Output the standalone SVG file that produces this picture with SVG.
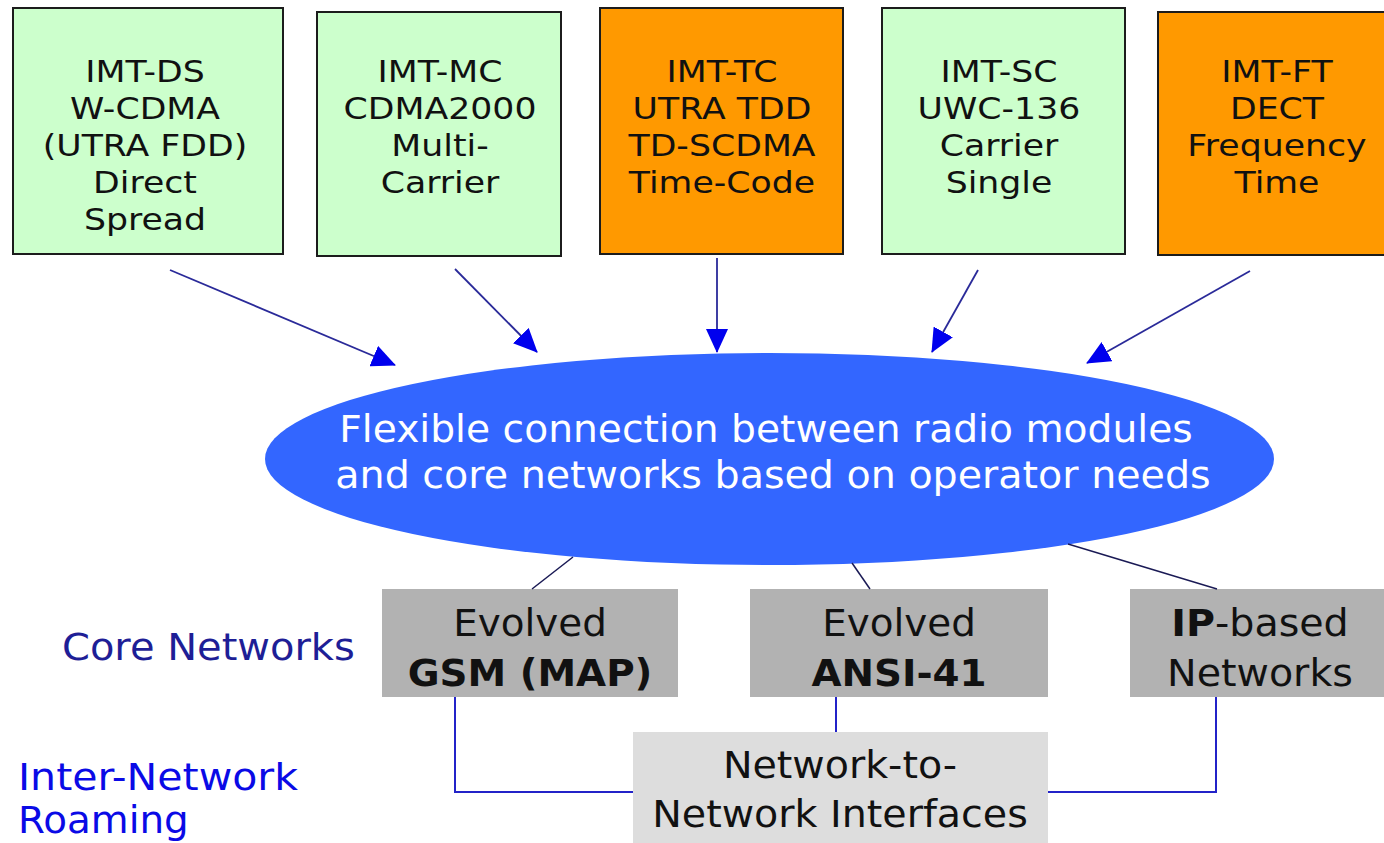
<svg xmlns="http://www.w3.org/2000/svg" width="1384" height="843" viewBox="0 0 1384 843">
<style>
text{font-family:"DejaVu Sans","Verdana",sans-serif}
.top{font-size:31px;fill:#111;text-anchor:middle}
.green{fill:#CCFFCC;stroke:#1c1c1c;stroke-width:2}
.orange{fill:#FF9900;stroke:#1c1c1c;stroke-width:2}
.core{fill:#B2B2B2}
.nni{fill:#DDDDDD}
.mid{font-size:37px;fill:#111;text-anchor:middle}
.b{font-weight:bold}
.arrow{stroke:#2a2a99;stroke-width:1.8;fill:none;marker-end:url(#ah)}
.link{stroke:#1a1a55;stroke-width:1.5;fill:none}
.net{stroke:#2323c8;stroke-width:2;fill:none}
</style>
<defs>
<marker id="ah" markerUnits="userSpaceOnUse" markerWidth="24" markerHeight="22" viewBox="0 0 24 22" refX="23" refY="11" orient="auto">
<path d="M0,0 L24,11 L0,22 z" fill="#0000EE"/>
</marker>
</defs>
<rect width="1384" height="843" fill="#FFFFFF"/>

<g id="imt-ds">
<rect class="green" x="13" y="8" width="270" height="246"/>
<g transform="translate(145,0) scale(1.12,1)">
<text class="top" x="0" y="82">IMT-DS</text>
<text class="top" x="0" y="119">W-CDMA</text>
<text class="top" x="0" y="156">(UTRA FDD)</text>
<text class="top" x="0" y="193">Direct</text>
<text class="top" x="0" y="230">Spread</text>
</g>
</g>

<g id="imt-mc">
<rect class="green" x="317" y="12" width="244" height="244"/>
<g transform="translate(440,0) scale(1.12,1)">
<text class="top" x="0" y="82">IMT-MC</text>
<text class="top" x="0" y="119">CDMA2000</text>
<text class="top" x="0" y="156">Multi-</text>
<text class="top" x="0" y="193">Carrier</text>
</g>
</g>

<g id="imt-tc">
<rect class="orange" x="600" y="8" width="243" height="246"/>
<g transform="translate(722,0) scale(1.12,1)">
<text class="top" x="0" y="82">IMT-TC</text>
<text class="top" x="0" y="119">UTRA TDD</text>
<text class="top" x="0" y="156">TD-SCDMA</text>
<text class="top" x="0" y="193">Time-Code</text>
</g>
</g>

<g id="imt-sc">
<rect class="green" x="882" y="8" width="243" height="246"/>
<g transform="translate(999,0) scale(1.12,1)">
<text class="top" x="0" y="82">IMT-SC</text>
<text class="top" x="0" y="119">UWC-136</text>
<text class="top" x="0" y="156">Carrier</text>
<text class="top" x="0" y="193">Single</text>
</g>
</g>

<g id="imt-ft">
<rect class="orange" x="1158" y="12" width="240" height="243"/>
<g transform="translate(1277,0) scale(1.12,1)">
<text class="top" x="0" y="82">IMT-FT</text>
<text class="top" x="0" y="119">DECT</text>
<text class="top" x="0" y="156">Frequency</text>
<text class="top" x="0" y="193">Time</text>
</g>
</g>

<g id="flex">
<ellipse cx="769.5" cy="459" rx="504.5" ry="106" fill="#3366FF"/>
<text transform="translate(766,0) scale(1.06,1)" x="0" y="442" font-size="37" fill="#FFFFFF" text-anchor="middle">Flexible connection between radio modules</text>
<text transform="translate(773,0) scale(1.07,1)" x="0" y="488" font-size="37" fill="#FFFFFF" text-anchor="middle">and core networks based on operator needs</text>
</g>

<g id="label-core">
<text transform="translate(62,660) scale(1.08,1)" x="0" y="0" font-size="37" fill="#1e1e96">Core Networks</text>
</g>
<g id="label-roaming">
<text transform="translate(18,0) scale(1.11,1)" x="0" y="790" font-size="37" fill="#0a0ae6">Inter-Network</text>
<text transform="translate(18,0) scale(1.05,1)" x="0" y="833" font-size="37" fill="#0a0ae6">Roaming</text>
</g>

<g id="gsm">
<rect class="core" x="382" y="589" width="296" height="108"/>
<g transform="translate(530,0) scale(1.05,1)">
<text class="mid" x="0" y="636">Evolved</text>
<text class="mid b" x="0" y="686">GSM (MAP)</text>
</g>
</g>

<g id="ansi">
<rect class="core" x="750" y="589" width="298" height="108"/>
<g transform="translate(899,0) scale(1.05,1)">
<text class="mid" x="0" y="636">Evolved</text>
<text class="mid b" x="0" y="686">ANSI-41</text>
</g>
</g>

<g id="ip">
<rect class="core" x="1130" y="589" width="260" height="108"/>
<g transform="translate(1260,0) scale(1.07,1)">
<text class="mid" x="0" y="636"><tspan class="b">IP</tspan>-based</text>
<text class="mid" x="0" y="686">Networks</text>
</g>
</g>

<g id="nni">
<rect class="nni" x="633" y="732" width="415" height="115"/>
<g transform="translate(840,0) scale(1.07,1)">
<text class="mid" x="0" y="778">Network-to-</text>
<text class="mid" x="0" y="827">Network Interfaces</text>
</g>
</g>

<g id="connectors">
<line class="arrow" x1="170" y1="270" x2="395" y2="365"/>
<line class="arrow" x1="455" y1="269" x2="537" y2="352"/>
<line class="arrow" x1="717" y1="258" x2="717" y2="352"/>
<line class="arrow" x1="978" y1="270" x2="932" y2="352"/>
<line class="arrow" x1="1250" y1="271" x2="1087" y2="363"/>
<line class="link" x1="573" y1="557" x2="532" y2="589"/>
<line class="link" x1="852" y1="563" x2="870" y2="589"/>
<line class="link" x1="1068" y1="544" x2="1217" y2="589"/>
<polyline class="net" points="455,697 455,792 633,792"/>
<line class="net" x1="836" y1="697" x2="836" y2="732"/>
<polyline class="net" points="1216,697 1216,792 1048,792"/>
</g>
</svg>
